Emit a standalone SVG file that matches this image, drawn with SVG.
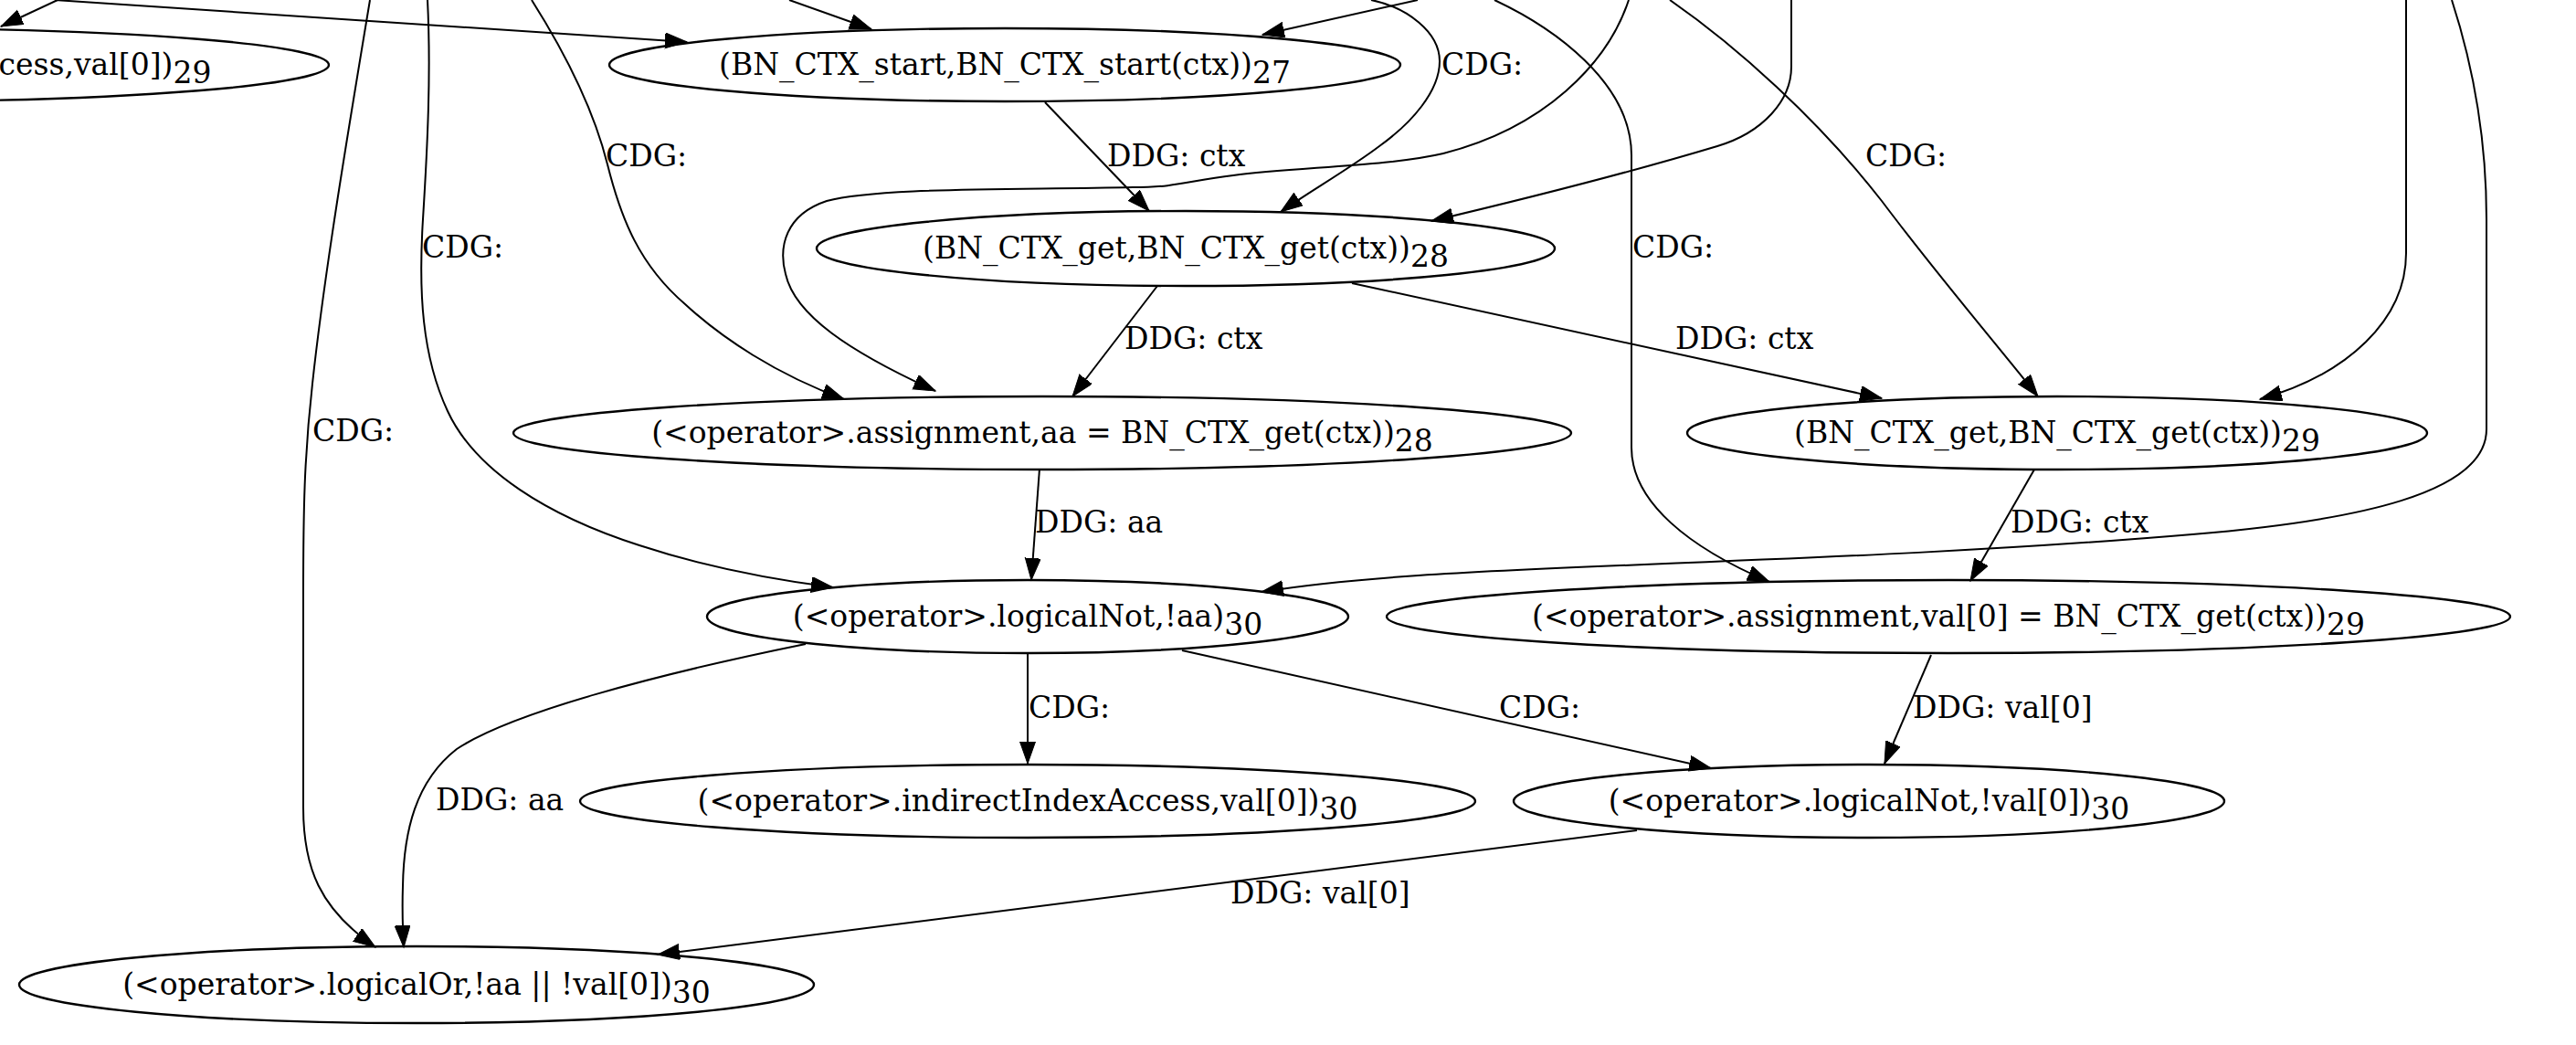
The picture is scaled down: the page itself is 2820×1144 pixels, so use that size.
<svg xmlns="http://www.w3.org/2000/svg" width="2820" height="1144" viewBox="0 0 2820 1144">
<style>
.bg{fill:#ffffff}
.node ellipse{fill:none;stroke:#000;stroke-width:2.4}
.node text{font-family:"DejaVu Serif","Liberation Serif",serif;font-size:33px;fill:#000;text-anchor:middle}
#edges path{fill:none;stroke:#000;stroke-width:2}
.lbl{font-family:"DejaVu Serif","Liberation Serif",serif;font-size:33px;fill:#000}
</style>
<defs>
<marker id="ah" markerUnits="userSpaceOnUse" markerWidth="26" markerHeight="18" refX="24" refY="8.5" orient="auto">
<path d="M0,0 L24,8.5 L0,17 z" fill="#000" stroke="#000" stroke-width="1"/>
</marker>
</defs>
<rect class="bg" x="0" y="0" width="2820" height="1144"/>
<g id="edges">
<path marker-end="url(#ah)" d="M63,0 L1,29"/>
<path marker-end="url(#ah)" d="M60,0 L752,46"/>
<path marker-end="url(#ah)" d="M864,0 L954,32"/>
<path marker-end="url(#ah)" d="M1552,0 L1382,38"/>
<path marker-end="url(#ah)" d="M1501,0 C1540,8 1576,35 1576,67 C1576,100 1545,135 1510,160 C1480,183 1430,212 1402,232"/>
<path marker-end="url(#ah)" d="M1783,0 C1760,70 1690,140 1580,168 C1520,182 1420,183 1350,192 C1300,198 1290,205 1240,205 C1100,208 960,205 905,220 C860,235 852,270 860,300 C870,345 930,385 1024,428"/>
<path marker-end="url(#ah)" d="M582,0 C620,60 650,120 665,180 C680,240 700,290 750,333 C790,370 850,410 924,437"/>
<path marker-end="url(#ah)" d="M468,0 C472,80 468,160 463,240 C458,320 462,390 490,450 C520,515 600,565 700,597 C770,620 850,635 912,643"/>
<path marker-end="url(#ah)" d="M405,0 C380,150 355,300 342,420 C333,500 332,560 332,650 L332,884 C332,950 350,995 411,1037"/>
<path marker-end="url(#ah)" d="M1828,0 C1900,50 1990,130 2060,220 C2120,300 2180,370 2231,434"/>
<path marker-end="url(#ah)" d="M1961,0 L1961,73 C1961,110 1930,145 1880,160 C1780,190 1660,220 1567,242"/>
<path marker-end="url(#ah)" d="M1636,0 C1700,30 1786,90 1786,170 L1786,490 C1786,550 1850,600 1937,637"/>
<path marker-end="url(#ah)" d="M2634,0 L2634,277 C2634,350 2570,410 2474,437"/>
<path marker-end="url(#ah)" d="M2684,0 C2710,80 2722,160 2722,240 L2722,470 C2722,540 2580,570 2400,585 C2200,602 2000,610 1800,618 C1600,626 1480,632 1381,648"/>
<path marker-end="url(#ah)" d="M1144,112 L1258,231"/>
<path marker-end="url(#ah)" d="M1267,313 L1174,434"/>
<path marker-end="url(#ah)" d="M1480,310 L2060,436"/>
<path marker-end="url(#ah)" d="M1138,513 L1129,635"/>
<path marker-end="url(#ah)" d="M2227,514 L2157,636"/>
<path marker-end="url(#ah)" d="M1125,715 L1125,836"/>
<path marker-end="url(#ah)" d="M1294,712 L1873,841"/>
<path marker-end="url(#ah)" d="M882,705 C720,738 560,780 500,820 C455,855 442,910 441,970 C440,1000 441,1020 442,1037"/>
<path marker-end="url(#ah)" d="M2114,717 L2063,836"/>
<path marker-end="url(#ah)" d="M1792,909 L720,1045"/>
<text class="lbl" x="1578" y="82">CDG:</text>
<text class="lbl" x="663" y="182">CDG:</text>
<text class="lbl" x="462" y="282">CDG:</text>
<text class="lbl" x="342" y="483">CDG:</text>
<text class="lbl" x="2042" y="182">CDG:</text>
<text class="lbl" x="1787" y="282">CDG:</text>
<text class="lbl" x="1212" y="182">DDG: ctx</text>
<text class="lbl" x="1231" y="382">DDG: ctx</text>
<text class="lbl" x="1834" y="382">DDG: ctx</text>
<text class="lbl" x="1133" y="583">DDG: aa</text>
<text class="lbl" x="2201" y="583">DDG: ctx</text>
<text class="lbl" x="1126" y="786">CDG:</text>
<text class="lbl" x="1641" y="786">CDG:</text>
<text class="lbl" x="2094" y="786">DDG: val[0]</text>
<text class="lbl" x="477" y="887">DDG: aa</text>
<text class="lbl" x="1347" y="989">DDG: val[0]</text>
</g>
<g id="nA" class="node"><ellipse cx="-130" cy="71" rx="490" ry="40"/><text x="-130" y="82">(&lt;operator&gt;.indirectIndexAccess,val[0])<tspan dy="9">29</tspan></text></g>
<g id="nB" class="node"><ellipse cx="1100" cy="71" rx="433" ry="40"/><text x="1100" y="82">(BN_CTX_start,BN_CTX_start(ctx))<tspan dy="9">27</tspan></text></g>
<g id="nC" class="node"><ellipse cx="1298" cy="272" rx="404" ry="41"/><text x="1298" y="283">(BN_CTX_get,BN_CTX_get(ctx))<tspan dy="9">28</tspan></text></g>
<g id="nD" class="node"><ellipse cx="1141" cy="474" rx="579" ry="40"/><text x="1141" y="485">(&lt;operator&gt;.assignment,aa = BN_CTX_get(ctx))<tspan dy="9">28</tspan></text></g>
<g id="nE" class="node"><ellipse cx="2252" cy="474" rx="405" ry="40"/><text x="2252" y="485">(BN_CTX_get,BN_CTX_get(ctx))<tspan dy="9">29</tspan></text></g>
<g id="nF" class="node"><ellipse cx="1125" cy="675" rx="351" ry="40"/><text x="1125" y="686">(&lt;operator&gt;.logicalNot,!aa)<tspan dy="9">30</tspan></text></g>
<g id="nG" class="node"><ellipse cx="2133" cy="675" rx="615" ry="40"/><text x="2133" y="686">(&lt;operator&gt;.assignment,val[0] = BN_CTX_get(ctx))<tspan dy="9">29</tspan></text></g>
<g id="nH" class="node"><ellipse cx="1125" cy="877" rx="490" ry="40"/><text x="1125" y="888">(&lt;operator&gt;.indirectIndexAccess,val[0])<tspan dy="9">30</tspan></text></g>
<g id="nI" class="node"><ellipse cx="2046" cy="877" rx="389" ry="40"/><text x="2046" y="888">(&lt;operator&gt;.logicalNot,!val[0])<tspan dy="9">30</tspan></text></g>
<g id="nJ" class="node"><ellipse cx="456" cy="1078" rx="435" ry="42"/><text x="456" y="1089">(&lt;operator&gt;.logicalOr,!aa || !val[0])<tspan dy="9">30</tspan></text></g>
</svg>
